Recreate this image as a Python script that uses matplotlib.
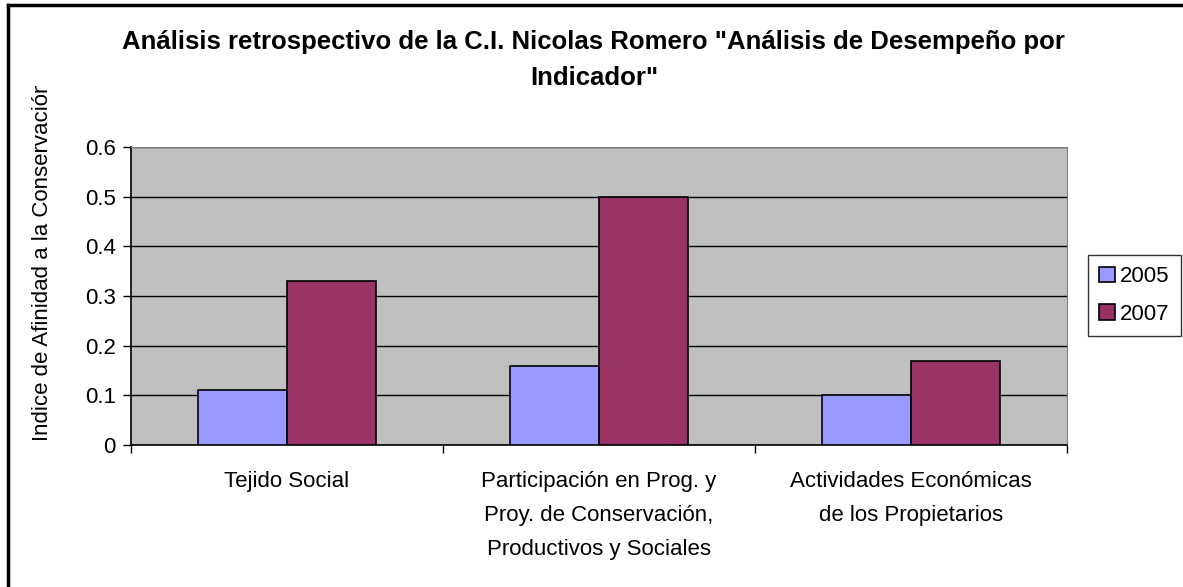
import numpy as np
import matplotlib.pyplot as plt
from matplotlib.lines import Line2D
from matplotlib.patches import Rectangle

plt.rcParams['font.family'] = ['Liberation Sans', 'DejaVu Sans']

categories = ['Tejido Social',
              'Participación en Prog. y\nProy. de Conservación,\nProductivos y Sociales',
              'Actividades Económicas\nde los Propietarios']
years = ['2005', '2007']
vals_2005 = [0.11, 0.16, 0.10]
vals_2007 = [0.33, 0.50, 0.17]
colors = ['#9999FF', '#993366']
yticks = [0, 0.1, 0.2, 0.3, 0.4, 0.5, 0.6]
title = 'Análisis retrospectivo de la C.I. Nicolas Romero "Análisis de Desempeño por\nIndicador"'
ylabel = 'Indice de Afinidad a la Conservación'

W, H = 1183, 587
fig = plt.figure(figsize=(W / 100, H / 100), dpi=100)
ax = fig.add_axes([131 / W, 1 - 445 / H, (1067 - 131) / W, (445 - 147) / H])
ax.set_facecolor('#C0C0C0')

x = np.arange(len(categories))
w = 0.286
b1 = ax.bar(x - w / 2, vals_2005, w, color=colors[0], edgecolor='black', linewidth=1.2, zorder=3, label=years[0])
b2 = ax.bar(x + w / 2, vals_2007, w, color=colors[1], edgecolor='black', linewidth=1.2, zorder=3, label=years[1])

ax.set_xlim(-0.5, len(categories) - 0.5)
ax.set_ylim(0, 0.6)
ax.set_yticks(yticks)
ax.set_yticklabels([f'{v:g}' for v in yticks])
ax.yaxis.grid(True, color='black', linewidth=1, zorder=1)
ax.set_axisbelow(True)

ax.set_xticks(x)
ax.set_xticklabels(categories, linespacing=1.8)
ax.set_xticks(np.arange(len(categories) + 1) - 0.5, minor=True)
ax.tick_params(axis='x', which='major', length=0, pad=19, labelsize=16)
ax.tick_params(axis='x', which='minor', length=6, width=1, direction='out')
ax.tick_params(axis='y', length=6, width=1, direction='out', pad=5, labelsize=16)

for s in ['top', 'right']:
    ax.spines[s].set_color('#808080')
for s in ['left', 'bottom']:
    ax.spines[s].set_color('black')
    ax.spines[s].set_linewidth(1.2)

fig.text(0.502, 1 - 60 / H, title, ha='center', va='center', fontsize=18.5,
         fontweight='bold', linespacing=1.6)

yl = fig.text(43 / W, 1 - 441 / H, ylabel, rotation=90, ha='center', va='bottom', fontsize=16)
clip = Rectangle((0, 0), W, H - 86, transform=None)
yl.set_clip_path(clip)

leg = fig.legend(handles=[b1, b2], labels=years, loc='upper left',
                 bbox_to_anchor=(1088 / W, 1 - 255 / H), fontsize=16,
                 frameon=True, fancybox=False, edgecolor='black',
                 handlelength=0.7, handleheight=0.7, handletextpad=0.25,
                 labelspacing=0.75, borderpad=0.5, borderaxespad=0)
leg.get_frame().set_linewidth(1)

fig.add_artist(Line2D([8 / W, 8 / W], [0, 1 - 5 / H], color='black', linewidth=2.5))
fig.add_artist(Line2D([8 / W, 1], [1 - 5 / H, 1 - 5 / H], color='black', linewidth=2.5))

fig.savefig('out.png', dpi=100)
